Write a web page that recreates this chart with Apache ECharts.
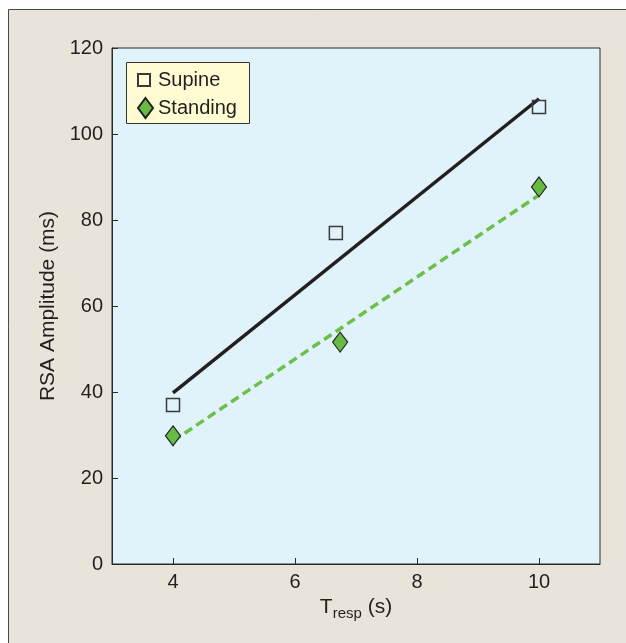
<!DOCTYPE html>
<html>
<head>
<meta charset="utf-8">
<script src="https://cdn.jsdelivr.net/npm/echarts@6/dist/echarts.min.js"></script>
<style>
html,body{margin:0;padding:0;background:#fff;}
#chart{width:626px;height:643px;}
</style>
</head>
<body>
<div id="chart"></div>
<script>
// Data
const supineT = [4, 6.67, 10];
const supineRSA = [37, 77, 106.3];
const standingT = [4, 6.74, 10];
const standingRSA = [29.8, 51.6, 87.7];
const fitT = [4, 10];
const supineFit = [39.8, 108.2];
const standingFit = [28.6, 85.8];
const xTicks = [4, 6, 8, 10];
const seriesNames = ['Supine', 'Standing'];

const pairs = (xs, ys) => xs.map((x, i) => [x, ys[i]]);
const fontFam = '"Liberation Sans", Arial, Helvetica, sans-serif';
const txt = '#231f20';

const chart = echarts.init(document.getElementById('chart'), null, {renderer: 'canvas'});
chart.setOption({
  backgroundColor: '#ffffff',
  animation: false,
  graphic: [
    {
      type: 'rect', z: -100, silent: true,
      shape: {x: 8.5, y: 9.5, width: 700, height: 700},
      style: {fill: '#e8e4d9', stroke: '#4a4a4a', lineWidth: 1}
    },
    {
      type: 'rect', z: 50, silent: true,
      shape: {x: 126.5, y: 62.5, width: 123, height: 61},
      style: {fill: '#fffbd2', stroke: '#333333', lineWidth: 1}
    }
  ],
  grid: {
    left: 112, right: 26, top: 48, bottom: 79,
    show: true, backgroundColor: '#e0f2fa', borderColor: '#2b2b2b', borderWidth: 1
  },
  legend: [
    {
      z: 60, orient: 'vertical', left: 137, top: 70, padding: 0,
      data: [{name: seriesNames[0], icon: 'rect'}],
      itemWidth: 12, itemHeight: 12,
      textStyle: {fontFamily: fontFam, fontSize: 20, lineHeight: 20, color: txt, padding: [0, 0, 0, 3]}
    },
    {
      z: 60, orient: 'vertical', left: 137, top: 97, padding: 0,
      data: [{name: seriesNames[1], icon: 'diamond'}],
      itemWidth: 15, itemHeight: 20,
      textStyle: {fontFamily: fontFam, fontSize: 20, lineHeight: 20, color: txt}
    }
  ],
  xAxis: {
    type: 'value', min: 3, max: 11,
    name: 'T{sub|resp} (s)', nameLocation: 'middle', nameGap: 30,
    nameTextStyle: {fontFamily: fontFam, fontSize: 21, color: txt,
      rich: {sub: {fontFamily: fontFam, fontSize: 15, color: txt, verticalAlign: 'bottom', padding: [12, 0, 0, 0]}}},
    axisLine: {show: true, lineStyle: {color: '#2b2b2b', width: 1}},
    axisTick: {show: true, inside: true, length: 6, customValues: xTicks, lineStyle: {color: '#2b2b2b'}},
    axisLabel: {customValues: xTicks, fontFamily: fontFam, fontSize: 20, color: txt, margin: 8},
    splitLine: {show: false}
  },
  yAxis: {
    type: 'value', min: 0, max: 120, interval: 20,
    name: 'RSA Amplitude (ms)', nameLocation: 'middle', nameGap: 49, nameRotate: 90,
    nameTextStyle: {fontFamily: fontFam, fontSize: 21, color: txt},
    axisLine: {show: true, lineStyle: {color: '#2b2b2b', width: 1}},
    axisTick: {show: true, inside: true, length: 6, lineStyle: {color: '#2b2b2b'}},
    axisLabel: {fontFamily: fontFam, fontSize: 20, color: txt, margin: 9},
    splitLine: {show: false}
  },
  series: [
    {
      name: 'Supine fit', type: 'line', data: pairs(fitT, supineFit),
      showSymbol: false, symbol: 'none', z: 2,
      lineStyle: {color: '#231f20', width: 3.5}
    },
    {
      name: 'Standing fit', type: 'line', data: pairs(fitT, standingFit),
      showSymbol: false, symbol: 'none', z: 2,
      lineStyle: {color: '#6cc04a', width: 3.5, type: [9, 5]}
    },
    {
      name: seriesNames[0], type: 'scatter', data: pairs(supineT, supineRSA),
      symbol: 'rect', symbolSize: 13, z: 3,
      itemStyle: {color: 'rgba(255,255,255,0)', borderColor: '#3a3a3a', borderWidth: 1.5, opacity: 1}
    },
    {
      name: seriesNames[1], type: 'scatter', data: pairs(standingT, standingRSA),
      symbol: 'diamond', symbolSize: [15, 20], z: 3,
      itemStyle: {color: '#67bb45', borderColor: '#231f20', borderWidth: 1.2, opacity: 1}
    }
  ]
});
</script>
</body>
</html>
